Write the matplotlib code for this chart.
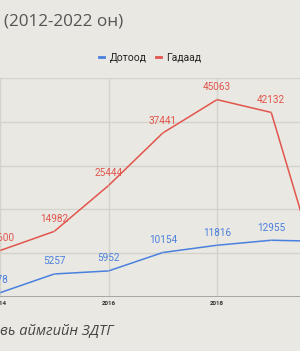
import matplotlib
matplotlib.use("Agg")
import matplotlib.pyplot as plt

# years and visitor counts
years = [2014, 2015, 2016, 2017, 2018, 2019, 2020]
dotood = [978, 5257, 5952, 10154, 11816, 12955, 12700]
gadaad = [10600, 14982, 25444, 37441, 45063, 42132, 500]
labeled = [2014, 2015, 2016, 2017, 2018, 2019]
ticks = [2014, 2016, 2018, 2020]

bg = "#e9e8e2"
blue = "#4a80de"
red = "#e2554d"
grid = "#d3d2cb"

fig = plt.figure(figsize=(3.0, 3.51), dpi=100, facecolor=bg)
# the axes run past the figure edges, the picture is a crop of a wider chart
ax = fig.add_axes([-108.5 / 300, 54 / 351, 542.5 / 300, 219 / 351])
ax.set_facecolor(bg)
ax.set_xlim(2012, 2022)
ax.set_ylim(0, 50000)

for y in range(10000, 50001, 10000):
    ax.axhline(y, color=grid, lw=1.0, zorder=0)
for x in ticks:
    ax.axvline(x, color=grid, lw=1.0, zorder=0)
ax.axhline(0, color="#9a9a96", lw=1.2, zorder=1)

ax.plot(years, dotood, color=blue, lw=1.1, label="Дотоод", zorder=3)
ax.plot(years, gadaad, color=red, lw=1.1, label="Гадаад", zorder=3)

for series, col in [(dotood, blue), (gadaad, red)]:
    for yr, v in zip(years, series):
        if yr not in labeled:
            continue
        ax.annotate(str(v), xy=(yr, v), xytext=(0, 9), textcoords="offset points",
                    ha="center", va="center", color=col, fontsize=7.2,
                    family="Roboto",
                    arrowprops=dict(arrowstyle="-", color="#c9c8c1", lw=0.6,
                                    shrinkA=3, shrinkB=0),
                    zorder=4)

ax.set_xticks(ticks)
ax.set_xticklabels([str(t) for t in ticks], fontsize=4.5, color="#333333",
                   family="Roboto", fontweight="bold")
ax.tick_params(axis="x", length=0, pad=3)
ax.set_yticks([])
for s in ax.spines.values():
    s.set_visible(False)

leg = ax.legend(loc="center", bbox_to_anchor=(150 / 300, 1 - 58 / 351),
                bbox_transform=fig.transFigure, ncol=2, frameon=False,
                handlelength=0.5, handletextpad=0.5, columnspacing=0.9,
                prop={"family": "Roboto", "size": 7.5})
for h in leg.get_lines():
    h.set_linewidth(2.0)
for t in leg.get_texts():
    t.set_color("#222222")

fig.text(4 / 300, 1 - 21 / 351, "(2012-2022 он)", fontsize=12.3, color="#555555",
         family="Open Sans", ha="left", va="center")
fig.text(0, 1 - 331 / 351, "вь аймгийн ЗДТГ", fontsize=10.5, color="#444444",
         family="Open Sans", style="italic", ha="left", va="center")

fig.savefig("out.png", dpi=100, facecolor=bg)
